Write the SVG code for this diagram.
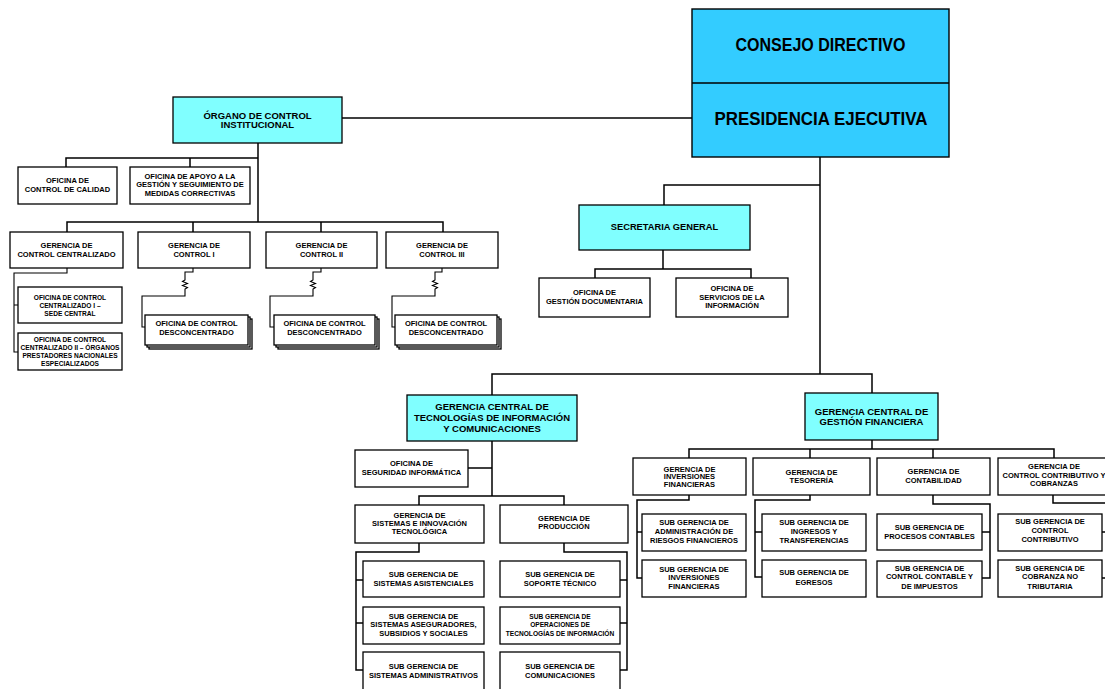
<svg xmlns="http://www.w3.org/2000/svg" width="1105" height="689" viewBox="0 0 1105 689">
<style>
.b{fill:#fff;stroke:#000;stroke-width:1.3}
.c{fill:#80FFFF;stroke:#000;stroke-width:1.3}
.p{fill:#33CCFF;stroke:#000;stroke-width:1.4}
.t{font-family:"Liberation Sans",Arial,sans-serif;font-weight:bold;text-anchor:middle;fill:#000;font-size:7.5px}
.s{font-size:6.6px}
.m{font-size:9.5px}
.conn path{fill:none;stroke:#000;stroke-width:1.5}
.conn .thin{stroke-width:1.1}
</style>
<rect width="1105" height="689" fill="#fff"/>
<g class="conn">
<path d="M342,118 H692"/>
<path d="M820,157 V374"/>
<path d="M820,185 H664 V205"/>
<path d="M258,143 V222"/>
<path d="M66,167 V158 H258 M190,158 V167"/>
<path d="M67,232 V222 H443 V232 M193,222 V232 M321,222 V232"/>
<path class="thin" d="M67,268 V273 H14 V352 H18 M14,305 H18"/>
<path class="thin" d="M193,268 V272 H185 V280 L182.5,281.5 L187.5,283.5 L182.5,285.5 L187.5,287.5 L185,289 V296 H142 V327 H145"/>
<path class="thin" d="M321,268 V272 H313 V280 L310.5,281.5 L315.5,283.5 L310.5,285.5 L315.5,287.5 L313,289 V296 H270 V327 H274"/>
<path class="thin" d="M442,268 V272 H435 V280 L432.5,281.5 L437.5,283.5 L432.5,285.5 L437.5,287.5 L435,289 V296 H392 V327 H395"/>
<path d="M663,250 V269 M595,278 V269 H751 V278"/>
<path d="M492,395 V374 H872 V393"/>
<path d="M492,441 V496 M468,468 H492 M419,505 V496 H564 V505"/>
<path d="M419,543 V552 H356 V670 H363 M356,580 H363 M356,623 H363"/>
<path d="M564,543 V552 H627 V670 H620 M627,580 H620 M627,623 H620"/>
<path d="M872,440 V449 M689,458 V449 H1054 V458 M810,449 V458 M933,449 V458"/>
<path d="M689,495 V500 H637 V578 H642 M637,532 H642"/>
<path d="M810,495 V500 H755 V577 H762 M755,532 H762"/>
<path d="M933,495 V504 H990 V578 H982 M990,532 H982"/>
<path d="M1053,495 V503 H1108 V578 H1102 M1108,532 H1102"/>
</g>
<g id="presidencia">
<rect class="p" x="692" y="9" width="257" height="148"/>
<path d="M692,83 H949" stroke="#000" stroke-width="1.4"/>
<text class="t" x="820.5" y="50.5" style="font-size:18px" textLength="170" lengthAdjust="spacingAndGlyphs">CONSEJO DIRECTIVO</text>
<text class="t" x="821" y="125" style="font-size:19px" textLength="213" lengthAdjust="spacingAndGlyphs">PRESIDENCIA EJECUTIVA</text>
</g>
<g id="organo">
<rect class="c" x="173" y="97" width="169" height="46"/>
<text class="t m"><tspan x="257.5" y="118.5">ÓRGANO DE CONTROL</tspan><tspan x="257.5" y="127.5">INSTITUCIONAL</tspan></text>
</g>
<g id="calidad">
<rect class="b" x="18" y="167" width="99" height="37"/>
<text class="t"><tspan x="67.5" y="183">OFICINA DE</tspan><tspan x="67.5" y="192">CONTROL DE CALIDAD</tspan></text>
</g>
<g id="apoyo">
<rect class="b" x="130" y="167" width="120" height="37"/>
<text class="t"><tspan x="190" y="178.5">OFICINA DE APOYO A LA</tspan><tspan x="190" y="187">GESTIÓN Y SEGUIMIENTO DE</tspan><tspan x="190" y="195.5">MEDIDAS CORRECTIVAS</tspan></text>
</g>
<g id="g-centralizado">
<rect class="b" x="10" y="232" width="113" height="36"/>
<text class="t"><tspan x="66.5" y="248">GERENCIA DE</tspan><tspan x="66.5" y="257">CONTROL CENTRALIZADO</tspan></text>
</g>
<g id="g-control1">
<rect class="b" x="138" y="232" width="112" height="36"/>
<text class="t"><tspan x="194" y="248">GERENCIA DE</tspan><tspan x="194" y="257">CONTROL I</tspan></text>
</g>
<g id="g-control2">
<rect class="b" x="266" y="232" width="111" height="36"/>
<text class="t"><tspan x="321.5" y="248">GERENCIA DE</tspan><tspan x="321.5" y="257">CONTROL II</tspan></text>
</g>
<g id="g-control3">
<rect class="b" x="386" y="232" width="112" height="36"/>
<text class="t"><tspan x="442" y="248">GERENCIA DE</tspan><tspan x="442" y="257">CONTROL III</tspan></text>
</g>
<g id="occ1">
<rect class="b" x="18" y="287" width="104" height="36"/>
<text class="t s"><tspan x="70" y="299.5">OFICINA DE CONTROL</tspan><tspan x="70" y="307.5">CENTRALIZADO I –</tspan><tspan x="70" y="315.5">SEDE CENTRAL</tspan></text>
</g>
<g id="occ2">
<rect class="b" x="18" y="333" width="104" height="37"/>
<text class="t s"><tspan x="70" y="341.7">OFICINA DE CONTROL</tspan><tspan x="70" y="350">CENTRALIZADO II – ÓRGANOS</tspan><tspan x="70" y="358.4">PRESTADORES NACIONALES</tspan><tspan x="70" y="366">ESPECIALIZADOS</tspan></text>
</g>
<g id="ocd1">
<rect class="b" x="149" y="319" width="103" height="30"/>
<rect class="b" x="147" y="317" width="103" height="30"/>
<rect class="b" x="145" y="315" width="103" height="30"/>
<text class="t"><tspan x="196.5" y="325.5">OFICINA DE CONTROL</tspan><tspan x="196.5" y="334.5">DESCONCENTRADO</tspan></text>
</g>
<g id="ocd2">
<rect class="b" x="278" y="319" width="101" height="30"/>
<rect class="b" x="276" y="317" width="101" height="30"/>
<rect class="b" x="274" y="315" width="101" height="30"/>
<text class="t"><tspan x="324.5" y="325.5">OFICINA DE CONTROL</tspan><tspan x="324.5" y="334.5">DESCONCENTRADO</tspan></text>
</g>
<g id="ocd3">
<rect class="b" x="399" y="319" width="102" height="30"/>
<rect class="b" x="397" y="317" width="102" height="30"/>
<rect class="b" x="395" y="315" width="102" height="30"/>
<text class="t"><tspan x="446" y="325.5">OFICINA DE CONTROL</tspan><tspan x="446" y="334.5">DESCONCENTRADO</tspan></text>
</g>
<g id="secretaria">
<rect class="c" x="579" y="205" width="171" height="45"/>
<text class="t" x="664.5" y="230.3" style="font-size:9.3px">SECRETARIA GENERAL</text>
</g>
<g id="gestion-doc">
<rect class="b" x="539" y="278" width="111" height="39"/>
<text class="t"><tspan x="594.5" y="295">OFICINA DE</tspan><tspan x="594.5" y="303.5">GESTIÓN DOCUMENTARIA</tspan></text>
</g>
<g id="servicios-info">
<rect class="b" x="676" y="278" width="112" height="39"/>
<text class="t"><tspan x="732" y="291">OFICINA DE</tspan><tspan x="732" y="299.7">SERVICIOS DE LA</tspan><tspan x="732" y="308.4">INFORMACIÓN</tspan></text>
</g>
<g id="gc-tic">
<rect class="c" x="407" y="395" width="170" height="46"/>
<text class="t m"><tspan x="492" y="410.2">GERENCIA CENTRAL DE</tspan><tspan x="492" y="421">TECNOLOGÍAS DE INFORMACIÓN</tspan><tspan x="492" y="431.8">Y COMUNICACIONES</tspan></text>
</g>
<g id="gc-financiera">
<rect class="c" x="805" y="393" width="133" height="47"/>
<text class="t m"><tspan x="871.5" y="415">GERENCIA CENTRAL DE</tspan><tspan x="871.5" y="425">GESTIÓN FINANCIERA</tspan></text>
</g>
<g id="seguridad">
<rect class="b" x="355" y="450" width="113" height="37"/>
<text class="t"><tspan x="411.5" y="466">OFICINA DE</tspan><tspan x="411.5" y="475.4">SEGURIDAD INFORMÁTICA</tspan></text>
</g>
<g id="g-sistemas">
<rect class="b" x="355" y="505" width="129" height="38"/>
<text class="t"><tspan x="419.5" y="518.4">GERENCIA DE</tspan><tspan x="419.5" y="526">SISTEMAS E INNOVACIÓN</tspan><tspan x="419.5" y="533.7">TECNOLÓGICA</tspan></text>
</g>
<g id="g-produccion">
<rect class="b" x="500" y="505" width="128" height="38"/>
<text class="t"><tspan x="564" y="521">GERENCIA DE</tspan><tspan x="564" y="529.4">PRODUCCIÓN</tspan></text>
</g>
<g id="sg-asistenciales">
<rect class="b" x="363" y="561" width="121" height="36"/>
<text class="t"><tspan x="423.5" y="577">SUB GERENCIA DE</tspan><tspan x="423.5" y="586">SISTEMAS ASISTENCIALES</tspan></text>
</g>
<g id="sg-aseguradores">
<rect class="b" x="363" y="607" width="121" height="37"/>
<text class="t"><tspan x="423.5" y="618.7">SUB GERENCIA DE</tspan><tspan x="423.5" y="627">SISTEMAS ASEGURADORES,</tspan><tspan x="423.5" y="636">SUBSIDIOS Y SOCIALES</tspan></text>
</g>
<g id="sg-administrativos">
<rect class="b" x="363" y="652" width="121" height="45"/>
<text class="t"><tspan x="423.5" y="669.4">SUB GERENCIA DE</tspan><tspan x="423.5" y="677.7">SISTEMAS ADMINISTRATIVOS</tspan></text>
</g>
<g id="sg-soporte">
<rect class="b" x="500" y="561" width="120" height="36"/>
<text class="t"><tspan x="560" y="577">SUB GERENCIA DE</tspan><tspan x="560" y="586">SOPORTE TÉCNICO</tspan></text>
</g>
<g id="sg-operaciones">
<rect class="b" x="500" y="607" width="120" height="37"/>
<text class="t s"><tspan x="560" y="618.7">SUB GERENCIA DE</tspan><tspan x="560" y="627">OPERACIONES DE</tspan><tspan x="560" y="636">TECNOLOGÍAS DE INFORMACIÓN</tspan></text>
</g>
<g id="sg-comunicaciones">
<rect class="b" x="500" y="652" width="120" height="45"/>
<text class="t"><tspan x="560" y="669.4">SUB GERENCIA DE</tspan><tspan x="560" y="677.7">COMUNICACIONES</tspan></text>
</g>
<g id="g-inversiones">
<rect class="b" x="633" y="458" width="113" height="37"/>
<text class="t"><tspan x="689.5" y="472">GERENCIA DE</tspan><tspan x="689.5" y="479.4">INVERSIONES</tspan><tspan x="689.5" y="486.7">FINANCIERAS</tspan></text>
</g>
<g id="g-tesoreria">
<rect class="b" x="753" y="458" width="117" height="37"/>
<text class="t"><tspan x="811.5" y="475">GERENCIA DE</tspan><tspan x="811.5" y="482.7">TESORERÍA</tspan></text>
</g>
<g id="g-contabilidad">
<rect class="b" x="877" y="458" width="113" height="37"/>
<text class="t"><tspan x="933.5" y="474.4">GERENCIA DE</tspan><tspan x="933.5" y="482.7">CONTABILIDAD</tspan></text>
</g>
<g id="g-contributivo">
<rect class="b" x="998" y="458" width="112" height="37"/>
<text class="t"><tspan x="1054" y="469.4">GERENCIA DE</tspan><tspan x="1054" y="477.7">CONTROL CONTRIBUTIVO Y</tspan><tspan x="1054" y="486">COBRANZAS</tspan></text>
</g>
<g id="sg-riesgos">
<rect class="b" x="642" y="514" width="104" height="37"/>
<text class="t"><tspan x="694" y="525.4">SUB GERENCIA DE</tspan><tspan x="694" y="534.4">ADMINISTRACIÓN DE</tspan><tspan x="694" y="543.4">RIESGOS FINANCIEROS</tspan></text>
</g>
<g id="sg-inversiones">
<rect class="b" x="642" y="560" width="104" height="37"/>
<text class="t"><tspan x="694" y="572">SUB GERENCIA DE</tspan><tspan x="694" y="580.4">INVERSIONES</tspan><tspan x="694" y="589.4">FINANCIERAS</tspan></text>
</g>
<g id="sg-ingresos">
<rect class="b" x="762" y="514" width="104" height="37"/>
<text class="t"><tspan x="814" y="525.4">SUB GERENCIA DE</tspan><tspan x="814" y="534.4">INGRESOS Y</tspan><tspan x="814" y="543.4">TRANSFERENCIAS</tspan></text>
</g>
<g id="sg-egresos">
<rect class="b" x="762" y="560" width="104" height="37"/>
<text class="t"><tspan x="814" y="575.4">SUB GERENCIA DE</tspan><tspan x="814" y="584.7">EGRESOS</tspan></text>
</g>
<g id="sg-procesos">
<rect class="b" x="877" y="514" width="105" height="36"/>
<text class="t"><tspan x="929.5" y="530">SUB GERENCIA DE</tspan><tspan x="929.5" y="538.7">PROCESOS CONTABLES</tspan></text>
</g>
<g id="sg-control-contable">
<rect class="b" x="877" y="561" width="105" height="36"/>
<text class="t"><tspan x="929.5" y="571">SUB GERENCIA DE</tspan><tspan x="929.5" y="579.4">CONTROL CONTABLE Y</tspan><tspan x="929.5" y="588.7">DE IMPUESTOS</tspan></text>
</g>
<g id="sg-control-contributivo">
<rect class="b" x="998" y="514" width="104" height="37"/>
<text class="t"><tspan x="1050" y="524.4">SUB GERENCIA DE</tspan><tspan x="1050" y="533.4">CONTROL</tspan><tspan x="1050" y="542">CONTRIBUTIVO</tspan></text>
</g>
<g id="sg-cobranza">
<rect class="b" x="998" y="560" width="104" height="37"/>
<text class="t"><tspan x="1050" y="571">SUB GERENCIA DE</tspan><tspan x="1050" y="579.4">COBRANZA NO</tspan><tspan x="1050" y="588.7">TRIBUTARIA</tspan></text>
</g>
</svg>
